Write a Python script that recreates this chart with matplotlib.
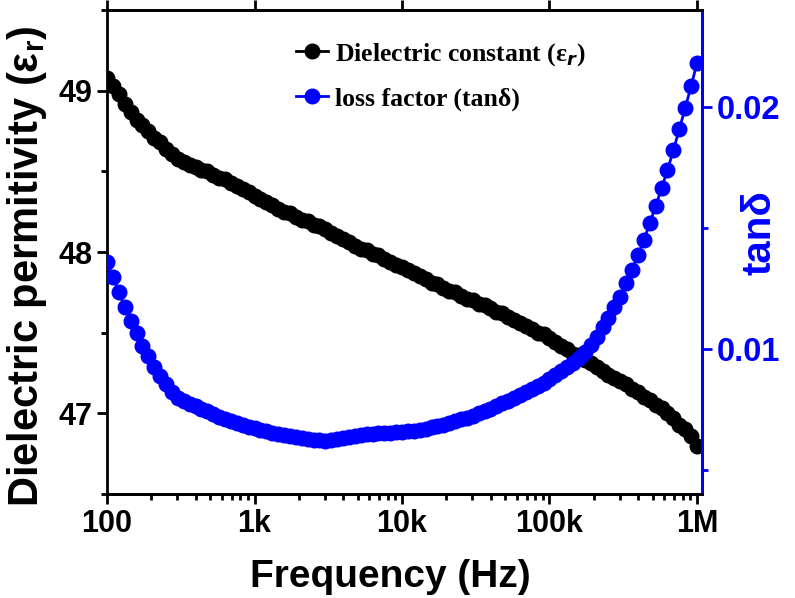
import matplotlib
matplotlib.use("Agg")
import matplotlib.pyplot as plt
import numpy as np
from matplotlib.ticker import FixedLocator, NullFormatter

# frequency sweep, 25 points per decade from 100 Hz to 1 MHz
freq = np.logspace(2, 6, 101)

# dielectric constant (eps_r)
eps_r = [49.08, 49.03, 48.98, 48.92, 48.87, 48.82, 48.79, 48.75, 48.71, 48.68,
         48.64, 48.61, 48.58, 48.56, 48.54, 48.53, 48.51, 48.50, 48.48, 48.46,
         48.45, 48.43, 48.41, 48.39, 48.37, 48.35, 48.33, 48.31, 48.29, 48.27,
         48.25, 48.24, 48.22, 48.20, 48.19, 48.17, 48.16, 48.14, 48.12, 48.10,
         48.08, 48.06, 48.04, 48.02, 48.01, 47.99, 47.98, 47.96, 47.94, 47.92,
         47.91, 47.89, 47.87, 47.85, 47.83, 47.81, 47.80, 47.78, 47.76, 47.75,
         47.73, 47.71, 47.70, 47.68, 47.67, 47.65, 47.63, 47.62, 47.60, 47.58,
         47.56, 47.54, 47.52, 47.50, 47.49, 47.47, 47.44, 47.42, 47.40, 47.37,
         47.36, 47.33, 47.31, 47.29, 47.26, 47.24, 47.22, 47.20, 47.18, 47.15,
         47.13, 47.10, 47.08, 47.05, 47.03, 47.00, 46.97, 46.93, 46.90, 46.86,
         46.80]

# loss factor tan(delta)
tan_d = [0.01359, 0.01297, 0.01235, 0.01173, 0.01115, 0.01065, 0.01012, 0.00970, 0.00925, 0.00888,
         0.00855, 0.00821, 0.00797, 0.00784, 0.00772, 0.00764, 0.00751, 0.00743, 0.00731, 0.00718,
         0.00710, 0.00702, 0.00693, 0.00685, 0.00677, 0.00673, 0.00664, 0.00660, 0.00652, 0.00648,
         0.00644, 0.00638, 0.00634, 0.00630, 0.00627, 0.00624, 0.00621, 0.00619, 0.00622, 0.00627,
         0.00632, 0.00636, 0.00640, 0.00643, 0.00646, 0.00648, 0.00650, 0.00652, 0.00654, 0.00656,
         0.00658, 0.00660, 0.00662, 0.00664, 0.00669, 0.00675, 0.00681, 0.00687, 0.00693, 0.00700,
         0.00708, 0.00716, 0.00724, 0.00733, 0.00743, 0.00753, 0.00764, 0.00775, 0.00786, 0.00797,
         0.00809, 0.00821, 0.00834, 0.00846, 0.00859, 0.00875, 0.00892, 0.00908, 0.00925, 0.00941,
         0.00962, 0.00987, 0.01016, 0.01049, 0.01090, 0.01127, 0.01173, 0.01214, 0.01272, 0.01326,
         0.01388, 0.01450, 0.01520, 0.01590, 0.01664, 0.01739, 0.01821, 0.01908, 0.01995, 0.02086,
         0.02181]

xticks = [1e2, 1e3, 1e4, 1e5, 1e6]
xticklabels = ["100", "1k", "10k", "100k", "1M"]

blue = "#0000ff"
sans = "Liberation Sans"
serif = "Liberation Serif"
plt.rcParams["mathtext.fontset"] = "custom"
plt.rcParams["mathtext.rm"] = sans
plt.rcParams["mathtext.bf"] = sans + ":bold"

fig = plt.figure(figsize=(7.95, 5.98), dpi=100)
ax = fig.add_axes([0.1346, 0.174, 0.7484, 0.809])
ax2 = ax.twinx()

l1, = ax.plot(freq, eps_r, "-o", color="black", ms=10.5, lw=2, zorder=3)
l2, = ax2.plot(freq, tan_d, "-o", color=blue, ms=10.5, lw=2, zorder=3)

ax.set_xscale("log")
ax.set_xlim(100, 1.081e6)
ax.set_ylim(46.5, 49.5)
ax2.set_ylim(0.004, 0.024)

ax.set_xticks(xticks)
ax.set_xticklabels(xticklabels)
ax.xaxis.set_minor_locator(matplotlib.ticker.LogLocator(base=10, subs=np.arange(2, 10), numticks=20))
ax.xaxis.set_minor_formatter(NullFormatter())
ax.set_yticks([47, 48, 49])
ax.yaxis.set_minor_locator(FixedLocator([46.5, 47.5, 48.5, 49.5]))
ax2.set_yticks([0.01, 0.02])
ax2.set_yticklabels(["0.01", "0.02"])
ax2.yaxis.set_minor_locator(FixedLocator([0.005, 0.015]))

for a in (ax, ax2):
    for s in a.spines.values():
        s.set_linewidth(2)
ax2.spines["right"].set_color(blue)
ax2.spines["left"].set_visible(False)

ax.tick_params(axis="both", which="major", direction="out", length=7, width=2,
               labelsize=22, top=True)
ax.tick_params(axis="both", which="minor", direction="out", length=4, width=2)
ax2.tick_params(axis="y", which="major", direction="out", length=7, width=2,
                labelsize=23.5, colors=blue)
ax2.tick_params(axis="y", which="minor", direction="out", length=4, width=2, colors=blue)

for lab in ax.get_xticklabels() + ax.get_yticklabels() + ax2.get_yticklabels():
    lab.set_fontfamily(sans)
    lab.set_fontweight("bold")

ax.set_xlabel("Frequency (Hz)", fontsize=28, fontweight="bold", fontfamily=sans)
ax.xaxis.set_label_coords(0.477, -0.134)
ax.set_ylabel(r"Dielectric permitivity (ε$_\mathbf{r}$)", fontsize=30, fontweight="bold",
              fontfamily=sans)
ax.yaxis.set_label_coords(-0.097, 0.47)
ax2.set_ylabel("tanδ", fontsize=29, fontweight="bold", fontfamily=sans, color=blue, rotation=90)
ax2.yaxis.set_label_coords(1.064, 0.54)

leg = ax.legend([l1, l2], [r"Dielectric constant (ε$_{\boldsymbol{r}}$)", "loss factor (tanδ)"],
                loc="upper left", bbox_to_anchor=(0.279, 0.984), frameon=False,
                handlelength=1.25, handletextpad=0.25, labelspacing=0.75,
                prop={"family": serif, "weight": "bold", "size": 18.5})

fig.savefig("out.png", dpi=100)
